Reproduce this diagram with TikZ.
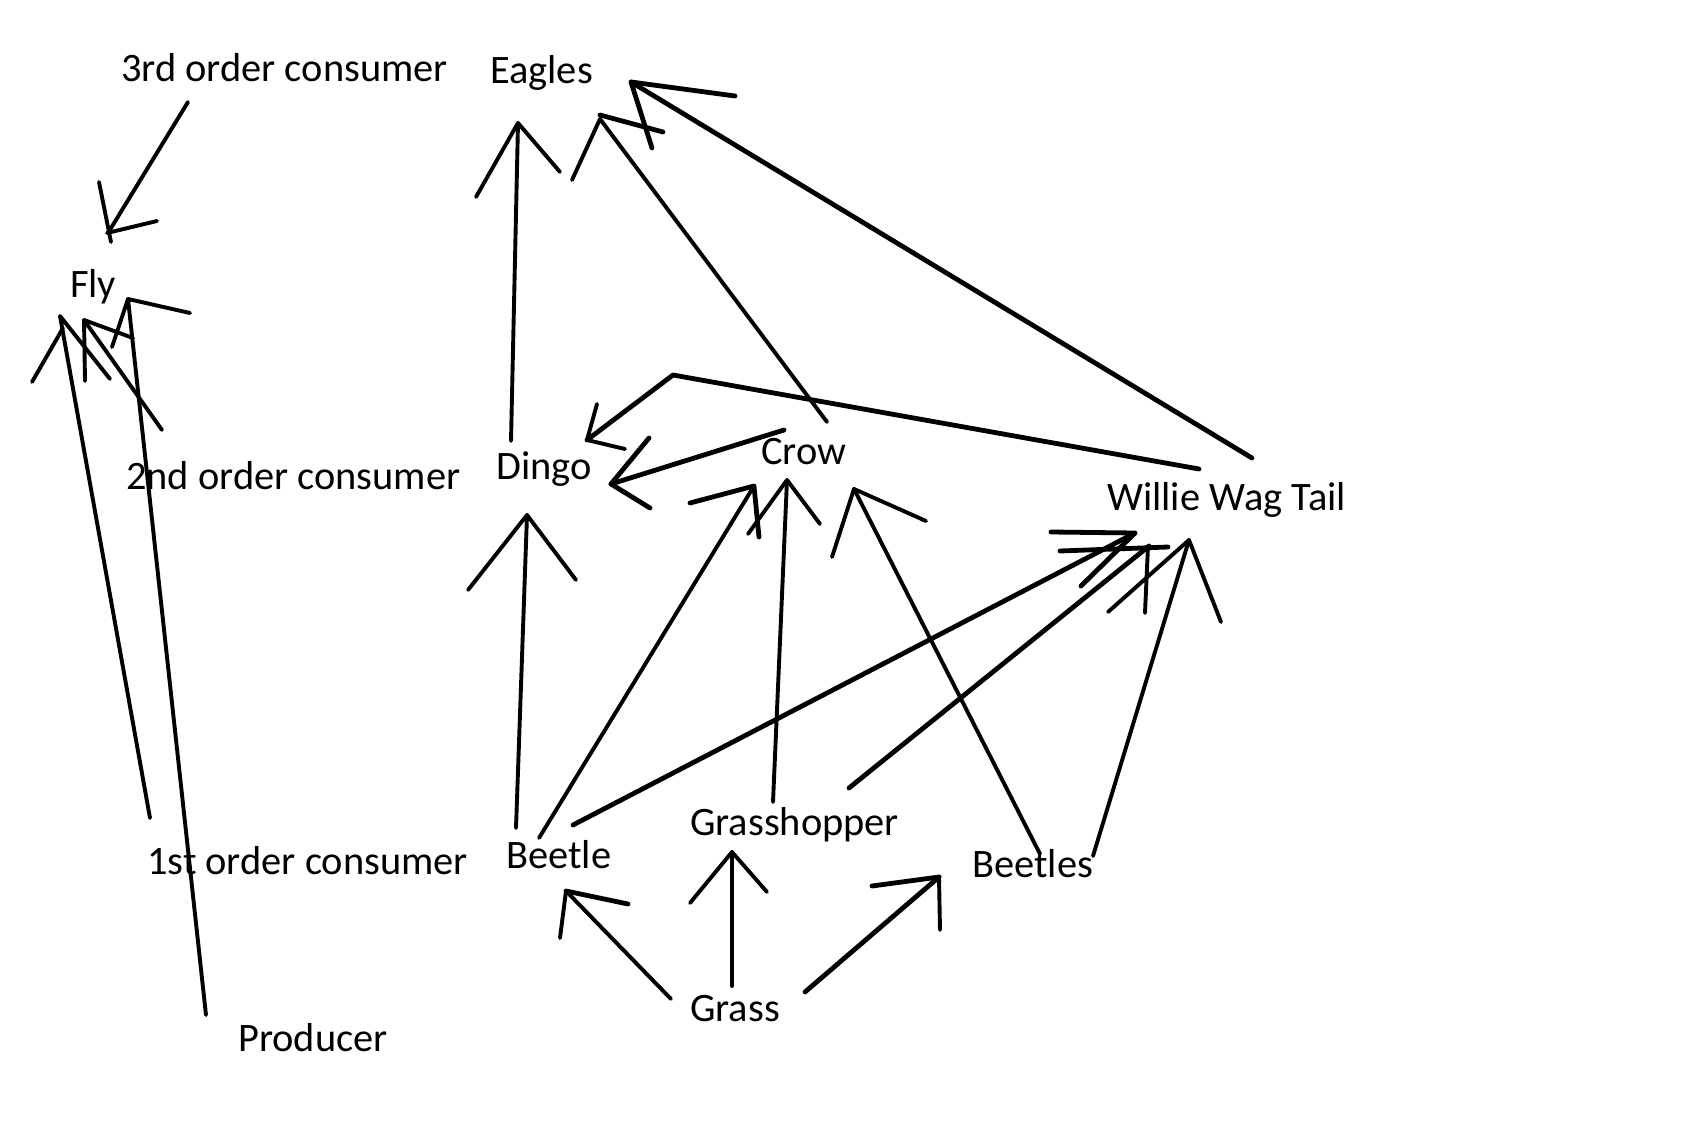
\documentclass[tikz,border=0pt]{standalone}
\usepackage{fontspec}
\setmainfont{Carlito}
\usetikzlibrary{calc}
\begin{document}
\begin{tikzpicture}[x=1pt,y=-1pt,
  lbl/.style={anchor=base west,inner sep=0pt,font=\fontsize{40.4}{44}\selectfont},
  stroke/.style={line width=3.9pt,line cap=round,line join=round},
  thick stroke/.style={line width=4.8pt,line cap=round,line join=round}]
\useasboundingbox[fill=white] (0,0) rectangle (1698,1121);

% labels
\node[lbl] (third) at (121,82) {3rd order consumer};
\node[lbl] (eagles) at (490,84) {Eagles};
\node[lbl] (fly) at (70,297) {Fly};
\node[lbl] (second) at (126,489) {2nd order consumer};
\node[lbl] (dingo) at (496,479) {Dingo};
\node[lbl] (crow) at (761,464) {Crow};
\node[lbl] (willie) at (1107,510) {Willie Wag Tail};
\node[lbl] (grasshopper) at (690,835) {Grasshopper};
\node[lbl] (beetle) at (506,868) {Beetle};
\node[lbl] (first) at (147,874) {1st order consumer};
\node[lbl] (beetles) at (972,877) {Beetles};
\node[lbl] (grass) at (690,1021) {Grass};
\node[lbl] (producer) at (238,1051) {Producer};

% 3rd order consumer -> Fly
\coordinate (t1) at (188,102); \coordinate (a1) at (108,233);
\draw[stroke] (t1) -- (a1);
\draw[stroke] ($(a1)+(-9,-51)$) -- ($(a1)+(3,9)$);
\draw[stroke] ($(a1)+(-1,0)$) -- ($(a1)+(49,-12)$);

% 1st order consumer -> Fly
\coordinate (t2) at (150,818); \coordinate (a2) at (60,316);
\draw[stroke] (t2) -- (a2) -- ($(a2)+(50,63)$);
\draw[stroke] ($(a2)+(-28,66)$) -- ($(a2)+(3,12)$);

% 2nd order consumer -> Fly
\coordinate (t3) at (162,430); \coordinate (a3) at (84,320);
\draw[stroke] (t3) -- (a3) -- ($(a3)+(1,61)$);
\draw[stroke] (a3) -- ($(a3)+(49,18)$);

% Producer -> Fly
\coordinate (t4) at (206,1015); \coordinate (a4) at (128,299);
\draw[stroke] (t4) -- (a4) -- ($(a4)+(62,14)$);
\draw[stroke] (a4) -- ($(a4)+(-16,48)$);

% Dingo -> Eagles
\coordinate (t5) at (511,441); \coordinate (a5) at (518,123);
\draw[stroke] (t5) -- (a5);
\draw[stroke] ($(a5)+(-42,74)$) -- (a5) -- ($(a5)+(42,49)$);

% Crow -> Eagles
\coordinate (t6) at (827,422); \coordinate (a6) at (600,119);
\draw[stroke] (t6) -- (a6) -- ($(a6)+(-28,61)$);
\draw[thick stroke] ($(a6)+(0,-4)$) -- ($(a6)+(63,13)$);

% Willie Wag Tail -> Eagles
\coordinate (t7) at (1252,458); \coordinate (a7) at (631,82);
\draw[thick stroke] (t7) -- (a7);
\draw[thick stroke] ($(a7)+(104,14)$) -- (a7) -- ($(a7)+(21,66)$);

% Willie Wag Tail -> Dingo (bent)
\coordinate (t8) at (1199,469); \coordinate (b8) at (673,375); \coordinate (a8) at (587,440);
\draw[thick stroke] (t8) -- (b8) -- (a8);
\draw[stroke] ($(a8)+(10,-36)$) -- (a8) -- ($(a8)+(38,9)$);

% Crow -> Dingo
\coordinate (t9) at (784,430); \coordinate (a9) at (611,484);
\draw[thick stroke] (t9) -- (a9);
\draw[thick stroke] ($(a9)+(38,-46)$) -- (a9) -- ($(a9)+(39,24)$);

% Beetle -> Dingo
\coordinate (t10) at (516,828); \coordinate (a10) at (527,515);
\draw[stroke] (t10) -- (a10);
\draw[stroke] ($(a10)+(-59,75)$) -- (a10) -- ($(a10)+(49,65)$);

% Beetle -> Crow
\coordinate (t11) at (539,838); \coordinate (a11) at (754,486);
\draw[stroke] (t11) -- (a11);
\draw[thick stroke] ($(a11)+(-64,17)$) -- (a11) -- ($(a11)+(5,51)$);

% Grasshopper -> Crow
\coordinate (t12) at (773,802); \coordinate (a12) at (787,480);
\draw[stroke] (t12) -- (a12);
\draw[stroke] ($(a12)+(-39,54)$) -- (a12) -- ($(a12)+(33,44)$);

% Beetles -> Crow
\coordinate (t13) at (1040,854); \coordinate (a13) at (854,489);
\draw[stroke] (t13) -- (a13);
\draw[stroke] ($(a13)+(-22,68)$) -- (a13) -- ($(a13)+(72,32)$);

% Beetle -> Willie Wag Tail
\coordinate (t14) at (573,825); \coordinate (a14) at (1135,533);
\draw[thick stroke] (t14) -- (a14);
\draw[thick stroke] ($(a14)+(-84,-1)$) -- (a14) -- ($(a14)+(-54,53)$);

% Grasshopper -> Willie Wag Tail
\coordinate (t15) at (849,788); \coordinate (a15) at (1149,546);
\draw[thick stroke] (t15) -- (a15);
\draw[thick stroke] ($(a15)+(-89,5)$) -- ($(a15)+(19,1)$);
\draw[stroke] ($(a15)+(-1,0)$) -- ($(a15)+(-4,67)$);

% Beetles -> Willie Wag Tail
\coordinate (t16) at (1093,856); \coordinate (a16) at (1189,540);
\draw[stroke] (t16) -- (a16);
\draw[stroke] ($(a16)+(-81,72)$) -- (a16) -- ($(a16)+(32,82)$);

% Grass -> Beetle
\coordinate (t17) at (671,999); \coordinate (a17) at (566,891);
\draw[stroke] (t17) -- (a17);
\draw[thick stroke] ($(a17)+(62,13)$) -- (a17);
\draw[stroke] (a17) -- ($(a17)+(-6,47)$);

% Grass -> Grasshopper
\coordinate (t18) at (732,986); \coordinate (a18) at (732,852);
\draw[stroke] (t18) -- (a18);
\draw[stroke] ($(a18)+(-42,51)$) -- (a18) -- ($(a18)+(35,40)$);

% Grass -> Beetles
\coordinate (t19) at (805,992); \coordinate (a19) at (939,877);
\draw[thick stroke] (t19) -- (a19);
\draw[thick stroke] ($(a19)+(-67,9)$) -- (a19);
\draw[stroke] (a19) -- ($(a19)+(1,53)$);
\end{tikzpicture}
\end{document}
